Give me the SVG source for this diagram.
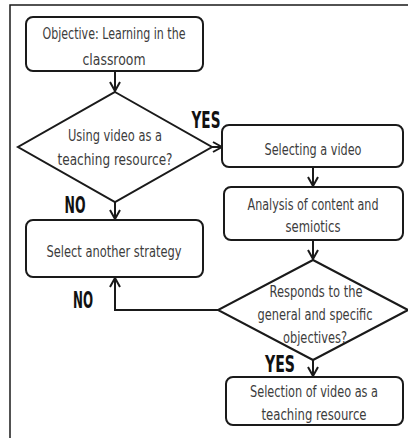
<svg xmlns="http://www.w3.org/2000/svg" width="408" height="438" viewBox="0 0 408 438">
<defs>
<style>
.box{fill:#fff;stroke:#1a1a1a;stroke-width:2}
.t{font-family:"DejaVu Sans Condensed","Liberation Sans Narrow","Liberation Sans",sans-serif;font-size:16.5px;fill:#3c3c3c;text-anchor:middle}
.lb{font-family:"DejaVu Sans Condensed","Liberation Sans Narrow","Liberation Sans",sans-serif;font-size:23px;font-weight:bold;fill:#111;text-anchor:middle}
.c{fill:none;stroke:#1a1a1a;stroke-width:2}
</style>
<marker id="ah" viewBox="0 0 12 12" refX="11" refY="6" markerWidth="12" markerHeight="12" markerUnits="userSpaceOnUse" orient="auto">
<polyline points="2,1 11,6 2,11" fill="none" stroke="#1a1a1a" stroke-width="2"/>
</marker>
</defs>
<rect width="408" height="438" fill="#fff"/>
<polyline points="10,438 10,5 408,5" fill="none" stroke="#1a1a1a" stroke-width="1.5"/>

<g id="connectors">
<line class="c" x1="115" y1="71" x2="115" y2="91" marker-end="url(#ah)"/>
<line class="c" x1="205" y1="147" x2="222" y2="147" marker-end="url(#ah)"/>
<line class="c" x1="115" y1="202" x2="115" y2="219" marker-end="url(#ah)"/>
<line class="c" x1="313" y1="167" x2="313" y2="186" marker-end="url(#ah)"/>
<line class="c" x1="313" y1="240" x2="313" y2="259" marker-end="url(#ah)"/>
<line class="c" x1="313" y1="360" x2="313" y2="376" marker-end="url(#ah)"/>
<polyline class="c" points="218,310 115,310 115,278" marker-end="url(#ah)"/>
</g>

<g id="objective">
<rect class="box" x="26" y="17" width="177" height="54" rx="7"/>
<text class="t" x="114" y="39" textLength="143" lengthAdjust="spacingAndGlyphs">Objective: Learning in the</text>
<text class="t" x="114" y="65" textLength="63" lengthAdjust="spacingAndGlyphs">classroom</text>
</g>

<g id="decision1">
<polygon class="box" points="115,92 212,147 115,202 18,147"/>
<text class="t" x="115" y="141" textLength="94" lengthAdjust="spacingAndGlyphs">Using video as a</text>
<text class="t" x="115" y="165" textLength="115" lengthAdjust="spacingAndGlyphs">teaching resource?</text>
</g>

<g id="selecting">
<rect class="box" x="222" y="125" width="181" height="42" rx="7"/>
<text class="t" x="313" y="155" textLength="97" lengthAdjust="spacingAndGlyphs">Selecting a video</text>
</g>

<g id="analysis">
<rect class="box" x="224" y="187" width="179" height="53" rx="7"/>
<text class="t" x="313" y="210" textLength="131" lengthAdjust="spacingAndGlyphs">Analysis of content and</text>
<text class="t" x="313" y="232" textLength="55" lengthAdjust="spacingAndGlyphs">semiotics</text>
</g>

<g id="another">
<rect class="box" x="26" y="220" width="177" height="57" rx="7"/>
<text class="t" x="114" y="257" textLength="135" lengthAdjust="spacingAndGlyphs">Select another strategy</text>
</g>

<g id="decision2">
<polygon class="box" points="313,260 408,310 313,360 218,310"/>
<text class="t" x="316" y="297" textLength="93" lengthAdjust="spacingAndGlyphs">Responds to the</text>
<text class="t" x="315" y="320" textLength="115" lengthAdjust="spacingAndGlyphs">general and specific</text>
<text class="t" x="315" y="343" textLength="64" lengthAdjust="spacingAndGlyphs">objectives?</text>
</g>

<g id="selection">
<rect class="box" x="226" y="377" width="177" height="48" rx="7"/>
<text class="t" x="314" y="397" textLength="128" lengthAdjust="spacingAndGlyphs">Selection of video as a</text>
<text class="t" x="314" y="420" textLength="105" lengthAdjust="spacingAndGlyphs">teaching resource</text>
</g>

<g id="labels">
<text class="lb" x="206" y="128" textLength="29" lengthAdjust="spacingAndGlyphs">YES</text>
<text class="lb" x="75" y="213" textLength="21" lengthAdjust="spacingAndGlyphs">NO</text>
<text class="lb" x="83" y="308" textLength="20" lengthAdjust="spacingAndGlyphs">NO</text>
<text class="lb" x="280" y="372" textLength="30" lengthAdjust="spacingAndGlyphs">YES</text>
</g>
</svg>
